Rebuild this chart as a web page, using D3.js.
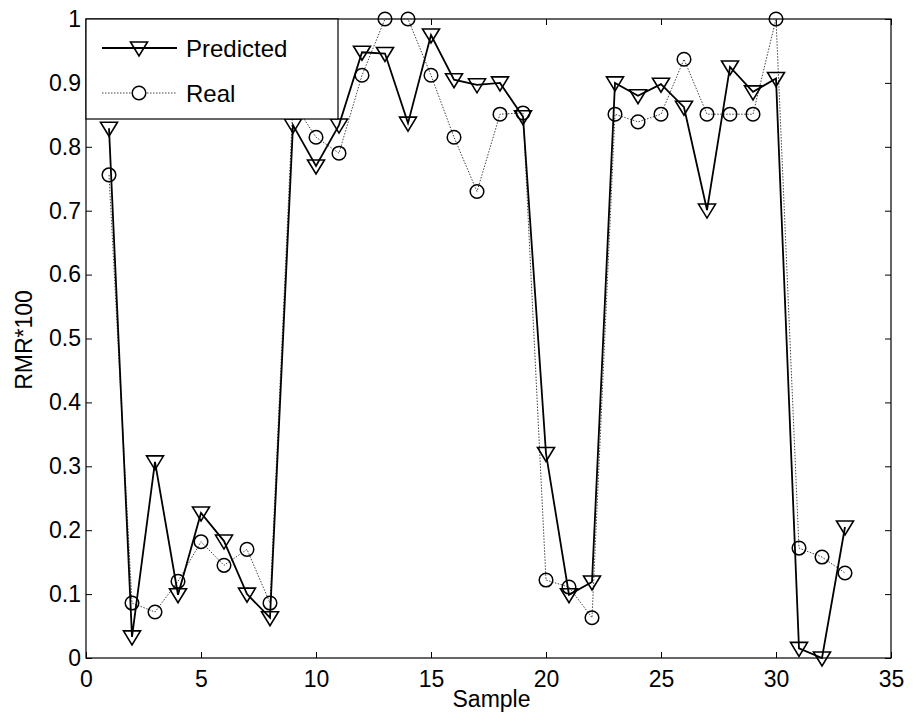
<!DOCTYPE html>
<html><head><meta charset="utf-8">
<script src="https://cdn.jsdelivr.net/npm/d3@7/dist/d3.min.js"></script>
<style>body{margin:0;background:#fff}svg text{font-family:"Liberation Sans",Arial,sans-serif}</style>
</head><body><svg id="c" width="916" height="725"></svg>
<script>
const samples = d3.range(1, 34);
const predicted = [0.829,0.033,0.307,0.099,0.227,0.183,0.100,0.063,0.834,0.770,0.834,0.948,0.946,0.837,0.975,0.905,0.897,0.900,0.847,0.320,0.099,0.119,0.900,0.880,0.898,0.862,0.701,0.925,0.886,0.907,0.015,0.000,0.205];
const real = [0.756,0.086,0.072,0.120,0.182,0.145,0.170,0.086,0.870,0.815,0.790,0.912,1.000,1.000,0.912,0.815,0.730,0.851,0.853,0.122,0.111,0.063,0.851,0.839,0.851,0.937,0.851,0.851,0.851,1.000,0.172,0.158,0.133];
const xTicks = [0,5,10,15,20,25,30,35];
const yTicks = [0,0.1,0.2,0.3,0.4,0.5,0.6,0.7,0.8,0.9,1];
const seriesNames = ["Predicted","Real"];

const L=86,R=891,T=19,B=658;
const svg=d3.select("#c");
const x=d3.scaleLinear().domain([0,35]).range([L,R]);
const y=d3.scaleLinear().domain([0,1]).range([B,T]);

const fmt=d=>d===0?"0":d===1?"1":d3.format(".1f")(d);
const gx=svg.append("g").attr("transform",`translate(0,${B})`)
  .call(d3.axisBottom(x).tickValues(xTicks).tickSizeInner(-6).tickSizeOuter(0).tickPadding(13));
const gxt=svg.append("g").attr("transform",`translate(0,${T})`)
  .call(d3.axisTop(x).tickValues(xTicks).tickSizeInner(-6).tickSizeOuter(0).tickFormat(""));
const gy=svg.append("g").attr("transform",`translate(${L},0)`)
  .call(d3.axisLeft(y).tickValues(yTicks).tickFormat(fmt).tickSizeInner(-6).tickSizeOuter(0).tickPadding(5));
const gyr=svg.append("g").attr("transform",`translate(${R},0)`)
  .call(d3.axisRight(y).tickValues(yTicks).tickSizeInner(-6).tickSizeOuter(0).tickFormat(""));
[gx,gxt,gy,gyr].forEach(g=>{g.select(".domain").remove();g.selectAll("line").attr("stroke","#000");g.selectAll("text").attr("font-size",23).attr("fill","#000");});
gx.selectAll("text").attr("dy","0.71em");
svg.append("rect").attr("x",L).attr("y",T).attr("width",R-L).attr("height",B-T).attr("fill","none").attr("stroke","#000").attr("stroke-width",1.2);

const line=d3.line().x((d,i)=>x(samples[i])).y(d=>y(d));
const tri="M-8.5,-6 L8.5,-6 L0,8 Z";

// Real series
svg.append("path").datum(real).attr("d",line).attr("fill","none").attr("stroke","#444").attr("stroke-width",1).attr("stroke-dasharray","1.5,1.5");
svg.append("g").selectAll("circle").data(real).join("circle")
  .attr("cx",(d,i)=>x(samples[i])).attr("cy",d=>y(d)).attr("r",6.8)
  .attr("fill","none").attr("stroke","#000").attr("stroke-width",1.5);
// Predicted series
svg.append("path").datum(predicted).attr("d",line).attr("fill","none").attr("stroke","#000").attr("stroke-width",1.8);
svg.append("g").selectAll("path").data(predicted).join("path")
  .attr("d",tri).attr("transform",(d,i)=>`translate(${x(samples[i])},${y(d)})`)
  .attr("fill","none").attr("stroke","#000").attr("stroke-width",1.6);

// Legend
const lg=svg.append("g");
lg.append("rect").attr("x",L).attr("y",T).attr("width",252).attr("height",100).attr("fill","#fff").attr("stroke","#000").attr("stroke-width",1.2);
const rows=[48,93];
lg.append("line").attr("x1",102).attr("x2",177).attr("y1",rows[0]).attr("y2",rows[0]).attr("stroke","#000").attr("stroke-width",1.8);
lg.append("path").attr("d",tri).attr("transform",`translate(139,${rows[0]})`).attr("fill","none").attr("stroke","#000").attr("stroke-width",1.6);
lg.append("line").attr("x1",102).attr("x2",177).attr("y1",rows[1]).attr("y2",rows[1]).attr("stroke","#444").attr("stroke-width",1).attr("stroke-dasharray","1.5,1.5");
lg.append("circle").attr("cx",139).attr("cy",rows[1]).attr("r",6.8).attr("fill","#fff").attr("stroke","#000").attr("stroke-width",1.5);
seriesNames.forEach((n,i)=>lg.append("text").attr("x",186).attr("y",rows[i]).attr("dy","0.36em").attr("font-size",24).text(n));

// Axis titles
svg.append("text").attr("x",(L+R)/2+3).attr("y",707).attr("text-anchor","middle").attr("font-size",23).text("Sample");
svg.append("text").attr("transform",`translate(32,340) rotate(-90)`).attr("text-anchor","middle").attr("font-size",23).text("RMR*100");
</script></body></html>
